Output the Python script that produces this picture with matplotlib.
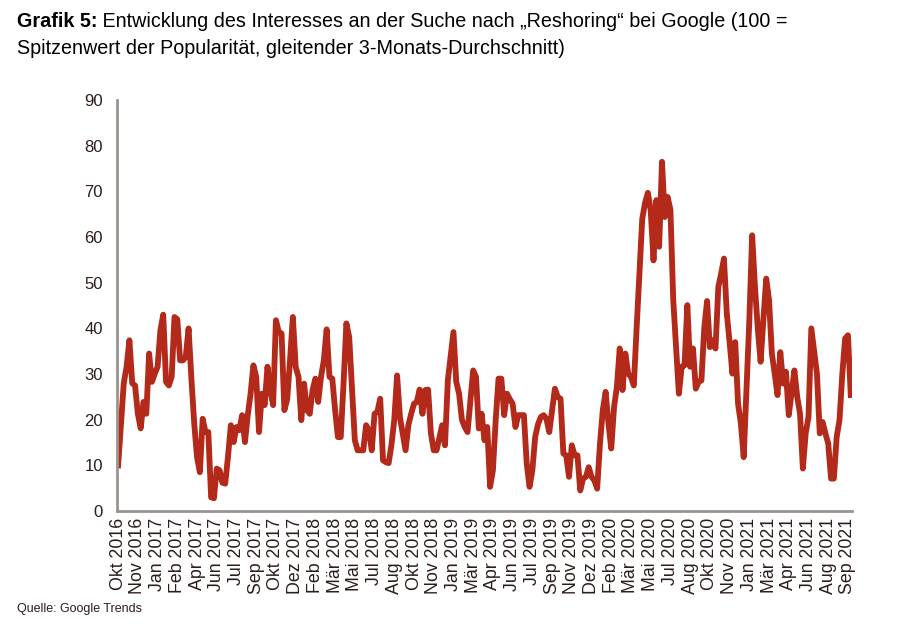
import matplotlib
matplotlib.use("Agg")
import matplotlib.pyplot as plt
from matplotlib.text import Annotation

plt.rcParams['font.family'] = ['Liberation Sans', 'DejaVu Sans']

# weekly Google Trends index, Okt 2016 - Sep 2021
werte = [
    10, 19, 28, 31.6, 37.4, 28, 27.5, 21.3, 18.1, 23.9,
    21.3, 34.5, 28.3, 30.1, 31.6, 39.6, 43, 28.3, 27.5, 29.4,
    42.5, 42, 33, 33, 33.8, 40, 29, 19.2, 11.8, 8.5,
    20.2, 17.3, 17.3, 3, 2.8, 9.3, 8.9, 6.2, 6, 12,
    18.8, 15.1, 18.4, 17.7, 21, 15.1, 21, 25.7, 31.9, 29.4,
    17.3, 25.7, 23.2, 31.6, 26.5, 23.2, 41.8, 39.2, 38.9, 22.1,
    24.5, 33, 42.5, 31.6, 29.4, 19.9, 27.9, 22.1, 21.3, 26.5,
    29, 23.9, 29.4, 33, 39.8, 29.4, 29, 22.1, 16.2, 16.2,
    28, 41.1, 38.1, 27, 15.5, 13.3, 13.3, 13.3, 18.8, 17.7,
    13.3, 21.3, 21.7, 24.6, 11.1, 10.7, 10.5, 14.5, 20, 29.7,
    20.6, 17, 13.3, 18.8, 21.3, 23.5, 23.9, 26.6, 21.3, 26.5,
    26.6, 17, 13.3, 13.3, 16, 18.8, 14.4, 28.6, 33.8, 39.2,
    28.3, 25.7, 20, 18.4, 17.3, 24, 30.8, 29.4, 18.1, 21.3,
    15.5, 18.4, 5.3, 8.9, 20, 29, 29, 21, 25.7, 24.5,
    23.5, 18.4, 21, 21, 21, 10.4, 5.3, 8.9, 16.2, 19,
    20.6, 21, 20.2, 17.3, 22, 26.8, 25, 24.6, 12.6, 12.2,
    7.5, 14.4, 12.2, 12.2, 4.5, 7.1, 7.5, 9.6, 7.5, 6.7,
    4.9, 14.8, 22.1, 26.1, 19.2, 13.7, 22.8, 27.2, 35.6, 26.5,
    34.5, 30.1, 29.4, 27.5, 40, 52, 64, 67.5, 69.7, 65.9,
    54.9, 68.1, 57.9, 76.5, 64.4, 68.8, 66, 46.2, 35.9, 25.7,
    31.6, 31.9, 45.1, 31.6, 35.6, 26.8, 28.3, 28.6, 40, 46,
    35.9, 37.4, 35.6, 49.1, 52, 55.3, 43.3, 37, 30.1, 37,
    23.5, 19.2, 11.8, 27, 41.8, 60.4, 49.1, 40, 32.7, 42,
    50.9, 46.2, 34.5, 30.1, 25.4, 34.8, 27.9, 30.5, 21, 26,
    30.8, 25, 21.3, 9.3, 17, 20.6, 40, 35, 30.1, 17,
    19.5, 17, 14.8, 7.1, 7.1, 16.2, 19.9, 30, 37.8, 38.5,
    25.4,
]

monate = [
    "Okt 2016", "Nov 2016", "Jan 2017", "Feb 2017", "Apr 2017", "Jun 2017",
    "Jul 2017", "Sep 2017", "Okt 2017", "Dez 2017", "Feb 2018", "Mär 2018",
    "Mai 2018", "Jul 2018", "Aug 2018", "Okt 2018", "Nov 2018", "Jan 2019",
    "Mär 2019", "Apr 2019", "Jun 2019", "Jul 2019", "Sep 2019", "Nov 2019",
    "Dez 2019", "Feb 2020", "Mär 2020", "Mai 2020", "Jul 2020", "Aug 2020",
    "Okt 2020", "Nov 2020", "Jan 2021", "Mär 2021", "Apr 2021", "Jun 2021",
    "Aug 2021", "Sep 2021",
]

rot = '#B3291A'
textfarbe = '#2b1d1a'
achse = '#9a948f'

fig = plt.figure(figsize=(9.17, 6.42), dpi=100)
ax = fig.add_axes([0.1276, 0.204, 0.8014, 0.640])

ax.plot(range(len(werte)), werte, color=rot, linewidth=4.2, solid_joinstyle='round')

ax.set_ylim(0, 90)
ax.set_yticks(range(0, 91, 10))
ax.set_xlim(-0.4, 260.4)
ax.set_xticks(range(0, 7 * len(monate), 7))
ax.set_xticklabels(monate, rotation=90)

for s in ['top', 'right']:
    ax.spines[s].set_visible(False)
for s in ['left', 'bottom']:
    ax.spines[s].set_color(achse)
    ax.spines[s].set_linewidth(2)
ax.tick_params(axis='both', length=0, colors=textfarbe)
ax.tick_params(axis='y', pad=10, labelsize=12)
ax.tick_params(axis='x', pad=5, labelsize=12.8)

# Titel: fett + normal
t1 = fig.text(0.0185, 0.967, "Grafik 5:", fontsize=14.2, fontweight='bold',
              color='black', va='center')
fig.add_artist(Annotation(
    " Entwicklung des Interesses an der Suche nach \u201eReshoring\u201c bei Google (100 =",
    xy=(1, 0), xycoords=t1, va='bottom', fontsize=14.2, color='black'))
fig.text(0.0185, 0.925, "Spitzenwert der Popularität, gleitender 3-Monats-Durchschnitt)",
         fontsize=14.2, color='black', va='center')

fig.text(0.0185, 0.051, "Quelle: Google Trends", fontsize=9, color=textfarbe, va='center')

fig.savefig("out.png", dpi=100)
